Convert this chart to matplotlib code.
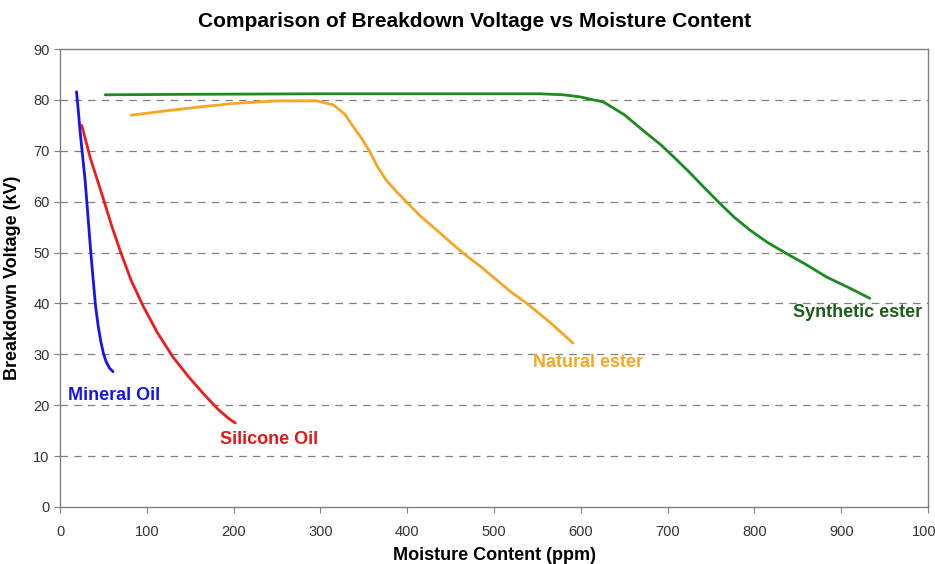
import matplotlib
matplotlib.use("Agg")
from matplotlib import pyplot as plt

plt.rcParams['font.family'] = ['Liberation Sans', 'DejaVu Sans']

# curves: moisture (ppm) vs breakdown voltage (kV)
mineral_x = [19, 21, 23, 26, 29, 32, 35, 38, 41, 44, 47, 50, 53, 57, 61]
mineral_y = [81.6, 78, 74, 69, 64, 57.5, 51, 45, 39.4, 35.5, 32.5, 30.2, 28.6, 27.3, 26.6]

silicone_x = [25, 35, 48, 60, 70, 82, 96, 112, 130, 148, 165, 182, 195, 202]
silicone_y = [75, 68.5, 61.6, 55, 50, 44.5, 39.4, 34.3, 29.5, 25.6, 22.3, 19.2, 17.3, 16.5]

natural_x = [82, 120, 160, 200, 250, 296, 315, 328, 338, 348, 357, 366, 376, 388, 399, 415, 434, 450, 465, 485, 503, 520, 538, 565, 591]
natural_y = [77, 77.8, 78.6, 79.3, 79.8, 79.8, 79, 77.2, 74.7, 72.3, 69.8, 66.8, 64.2, 61.9, 60, 57.2, 54.4, 52, 49.8, 47.2, 44.6, 42.2, 40, 36.2, 32.2]

synth_x = [52, 150, 300, 450, 553, 580, 599, 612, 626, 650, 676, 692, 707, 725, 742, 760, 777, 795, 815, 837, 860, 883, 910, 933]
synth_y = [81, 81.1, 81.2, 81.2, 81.2, 81.0, 80.6, 80.1, 79.6, 77.1, 73.4, 71.2, 68.8, 65.8, 62.8, 59.7, 56.9, 54.4, 52.0, 49.8, 47.6, 45.2, 43.0, 41.0]

series = [
    ("Mineral Oil", mineral_x, mineral_y, "#1414F0", "#1414F0", 9, 22),
    ("Silicone Oil", silicone_x, silicone_y, "#EE1C1C", "#E01818", 184, 13.2),
    ("Natural ester", natural_x, natural_y, "#F5A623", "#F5A623", 545, 28.3),
    ("Synthetic ester", synth_x, synth_y, "#1E8A1E", "#1A5E1A", 845, 38.3),
]

fig = plt.figure(figsize=(9.35, 5.64), dpi=100)
ax = fig.add_axes([0.0642, 0.1011, 0.9283, 0.812])

for name, xs, ys, c, tc, lx, ly in series:
    ax.plot(xs, ys, color=c, lw=2.0, solid_capstyle='round', zorder=3)
    ax.text(lx, ly, name, color=tc, fontsize=13, fontweight='bold',
            va='center', ha='left', zorder=4)

ax.set_xlim(0, 1000)
ax.set_ylim(0, 90)
ax.set_xticks(range(0, 1001, 100))
ax.set_yticks(range(0, 91, 10))
for yv in range(10, 90, 10):
    ax.axhline(yv, color='#808080', lw=0.9, ls=(0, (6, 5)), zorder=1)

for s in ax.spines.values():
    s.set_color('#808080')
    s.set_linewidth(1.0)
ax.tick_params(axis='both', colors='#808080', labelcolor='#333333', labelsize=10.5, length=4)
ax.tick_params(axis='x', pad=9)

ax.set_xlabel("Moisture Content (ppm)", fontsize=13, fontweight='bold', labelpad=6)
ax.set_ylabel("Breakdown Voltage (kV)", fontsize=13, fontweight='bold', labelpad=9)
fig.text(0.508, 0.962, "Comparison of Breakdown Voltage vs Moisture Content",
         ha='center', va='center', fontsize=15, fontweight='bold')

fig.savefig("out.png", dpi=100)
